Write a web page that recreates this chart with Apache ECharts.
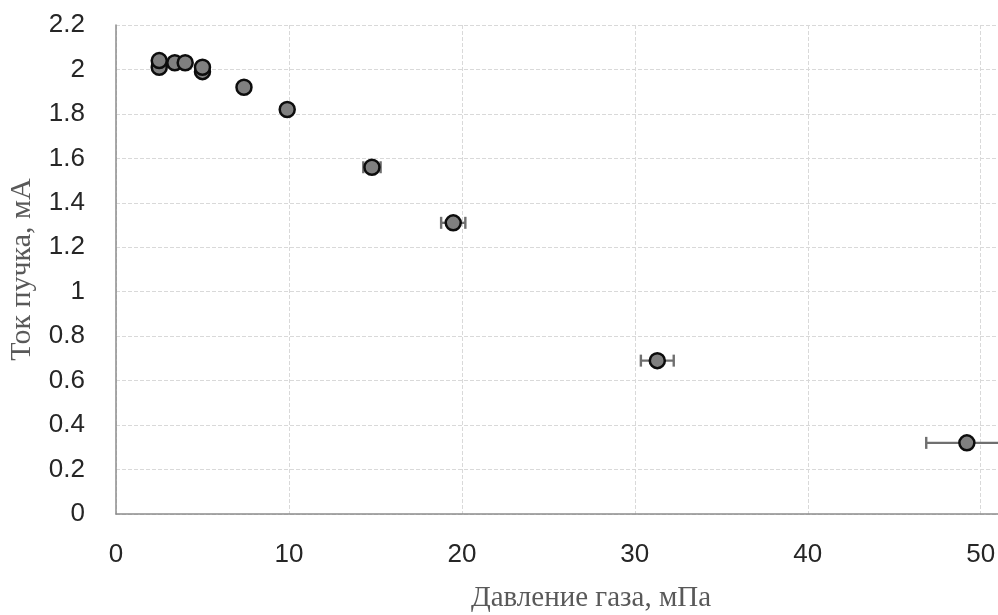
<!DOCTYPE html>
<html><head><meta charset="utf-8">
<script src="https://cdn.jsdelivr.net/npm/echarts@6/dist/echarts.min.js"></script>
<style>html,body{margin:0;padding:0;background:#fff;overflow:hidden}#c{width:998px;height:615px}</style>
</head><body><div id="c"></div>
<script>
// Data
const pressure = [2.5, 2.5, 3.4, 4.0, 5.0, 5.0, 7.4, 9.9, 14.8, 19.5, 31.3, 49.2];
const current  = [2.01, 2.04, 2.03, 2.03, 1.99, 2.01, 1.92, 1.82, 1.56, 1.31, 0.69, 0.32];
const pressureErr = [0, 0, 0, 0, 0, 0, 0, 0.05, 0.5, 0.7, 0.95, 2.35];
const xTitle = 'Давление газа, мПа';
const yTitle = 'Ток пучка, мА';

const pts = pressure.map((p, i) => [p, current[i]]);
const errData = pressure.map((p, i) => [p, current[i], pressureErr[i]]);

const chart = echarts.init(document.getElementById('c'), null, {renderer: 'canvas'});
chart.setOption({
  animation: false,
  grid: {left: 116, right: 0, top: 25, bottom: 101, containLabel: false, outerBoundsMode: 'none'},
  xAxis: {
    type: 'value', min: 0, max: 51, interval: 10,
    axisLine: {show: true, lineStyle: {color: '#8c8c8c', width: 1.5}},
    axisTick: {show: false},
    axisLabel: {
      margin: 28, color: '#262626', fontSize: 26, fontFamily: 'Liberation Sans',
      formatter: v => (v % 10 === 0 && v <= 50) ? String(v) : ''
    },
    splitLine: {show: true, lineStyle: {color: '#d9d9d9', type: 'dashed', width: 1}},
    name: xTitle, nameLocation: 'middle', nameGap: 70,
    nameTextStyle: {color: '#595959', fontSize: 29, fontFamily: 'Liberation Serif', padding: [0, 0, 0, 68]}
  },
  yAxis: {
    type: 'value', min: 0, max: 2.2, interval: 0.2,
    axisLine: {show: true, lineStyle: {color: '#8c8c8c', width: 1.5}},
    axisTick: {show: false},
    axisLabel: {
      margin: 31, color: '#262626', fontSize: 26, fontFamily: 'Liberation Sans',
      formatter: v => String(Math.round(v * 10) / 10)
    },
    splitLine: {show: true, lineStyle: {color: '#d9d9d9', type: 'dashed', width: 1}},
    name: yTitle, nameLocation: 'middle', nameGap: 79,
    nameTextStyle: {color: '#595959', fontSize: 30, fontFamily: 'Liberation Serif'}
  },
  series: [
    {
      type: 'custom',
      data: errData,
      z: 1,
      renderItem: function (params, api) {
        const x = api.value(0), y = api.value(1), e = api.value(2);
        if (!e) return null;
        const a = api.coord([x - e, y]);
        const b = api.coord([x + e, y]);
        const cap = 6;
        const style = {stroke: '#6f6f6f', lineWidth: 2.4};
        return {
          type: 'group',
          children: [
            {type: 'line', shape: {x1: a[0], y1: a[1], x2: b[0], y2: b[1]}, style: style},
            {type: 'line', shape: {x1: a[0], y1: a[1] - cap, x2: a[0], y2: a[1] + cap}, style: style},
            {type: 'line', shape: {x1: b[0], y1: b[1] - cap, x2: b[0], y2: b[1] + cap}, style: style}
          ]
        };
      },
      clip: true
    },
    {
      type: 'scatter',
      data: pts,
      z: 2,
      symbol: 'circle',
      symbolSize: 15,
      itemStyle: {color: '#808080', borderColor: '#0d0d0d', borderWidth: 2.5, opacity: 1}
    }
  ]
});
</script>
</body></html>
